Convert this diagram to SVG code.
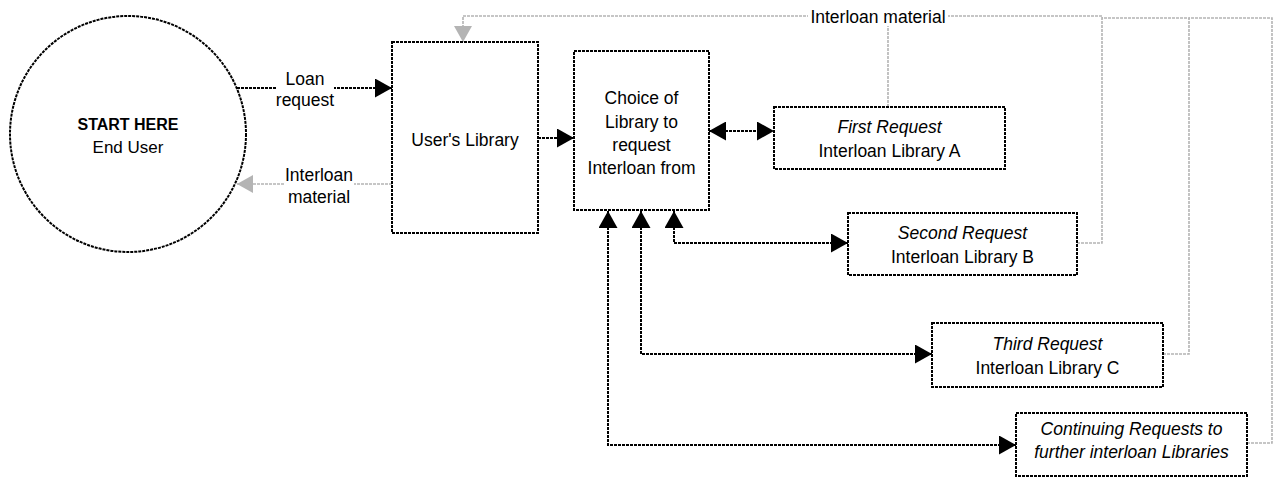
<svg xmlns="http://www.w3.org/2000/svg" width="1275" height="477" viewBox="0 0 1275 477">
<style>
  .box { fill: #ffffff; stroke: #000000; stroke-width: 2; stroke-dasharray: 3 1; }
  .t { font-family: "Liberation Sans", Arial, sans-serif; font-size: 17.5px; fill: #000000; text-anchor: middle; }
  .it { font-style: italic; }
  .b { font-weight: bold; }
  .ln { fill: none; stroke: #000000; stroke-width: 2; stroke-dasharray: 3 1; }
  .gl { fill: none; stroke: #b4b4b4; stroke-width: 1.6; stroke-dasharray: 3 1; }
  .lbg { fill: #ffffff; }
</style>
<defs>
  <marker id="ah" markerUnits="userSpaceOnUse" markerWidth="17" markerHeight="19" refX="17" refY="9.5" orient="auto-start-reverse">
    <path d="M0,0 L17,9.5 L0,19 Z" fill="#000000"/>
  </marker>
  <marker id="ahg" markerUnits="userSpaceOnUse" markerWidth="16" markerHeight="18" refX="16" refY="9" orient="auto-start-reverse">
    <path d="M0,0 L16,9 L0,18 Z" fill="#b4b4b4"/>
  </marker>
</defs>

<g id="connectors">
  <!-- grey return lines -->
  <path class="gl" d="M1077,243 H1102 V16"/>
  <path class="gl" d="M1163,354 H1189 V18 H1102"/>
  <path class="gl" d="M1247,443 H1272 V18 H1189"/>
  <path class="gl" d="M888,107 V16"/>
  <path class="gl" d="M1102,16 H463 V42" marker-end="url(#ahg)"/>
  <rect class="lbg" x="808" y="8" width="140" height="18"/>
  <text class="t" x="878" y="22.5">Interloan material</text>
  <path class="gl" d="M392,184 H237" marker-end="url(#ahg)"/>
  <rect class="lbg" x="284" y="166" width="70" height="40"/>
  <text class="t" x="319" y="181">Interloan</text>
  <text class="t" x="319" y="203">material</text>

  <!-- black request lines -->
  <path class="ln" d="M237,88 H392" marker-end="url(#ah)"/>
  <rect class="lbg" x="276" y="70" width="58" height="40"/>
  <text class="t" x="305" y="85">Loan</text>
  <text class="t" x="305" y="106">request</text>
  <path class="ln" d="M538,138 H574" marker-end="url(#ah)"/>
  <path class="ln" d="M709,131 H774" marker-start="url(#ah)" marker-end="url(#ah)"/>
  <path class="ln" d="M674,211 V243 H848" marker-start="url(#ah)" marker-end="url(#ah)"/>
  <path class="ln" d="M641,211 V354 H932" marker-start="url(#ah)" marker-end="url(#ah)"/>
  <path class="ln" d="M608,211 V445 H1016" marker-start="url(#ah)" marker-end="url(#ah)"/>
</g>

<g id="end-user">
  <circle class="box" cx="128" cy="134" r="118"/>
  <text class="t b" x="128" y="129.5" style="font-size:16px">START HERE</text>
  <text class="t" x="128" y="153" style="font-size:17px">End User</text>
</g>

<g id="users-library">
  <rect class="box" x="392" y="42" width="146" height="191"/>
  <text class="t" x="465" y="146">User's Library</text>
</g>

<g id="choice">
  <rect class="box" x="574" y="51" width="135" height="159"/>
  <text class="t" x="641.5" y="104">Choice of</text>
  <text class="t" x="641.5" y="127.5">Library to</text>
  <text class="t" x="641.5" y="151">request</text>
  <text class="t" x="641.5" y="174">Interloan from</text>
</g>

<g id="library-a">
  <rect class="box" x="774" y="107" width="231" height="62"/>
  <text class="t it" x="889.5" y="133">First Request</text>
  <text class="t" x="889.5" y="157">Interloan Library A</text>
</g>

<g id="library-b">
  <rect class="box" x="848" y="213" width="229" height="62"/>
  <text class="t it" x="962.5" y="239">Second Request</text>
  <text class="t" x="962.5" y="263">Interloan Library B</text>
</g>

<g id="library-c">
  <rect class="box" x="932" y="323" width="231" height="64"/>
  <text class="t it" x="1047.5" y="350">Third Request</text>
  <text class="t" x="1047.5" y="374">Interloan Library C</text>
</g>

<g id="further-libraries">
  <rect class="box" x="1016" y="413" width="231" height="63"/>
  <text class="t it" x="1131.5" y="435">Continuing Requests to</text>
  <text class="t it" x="1131.5" y="458">further interloan Libraries</text>
</g>
</svg>
